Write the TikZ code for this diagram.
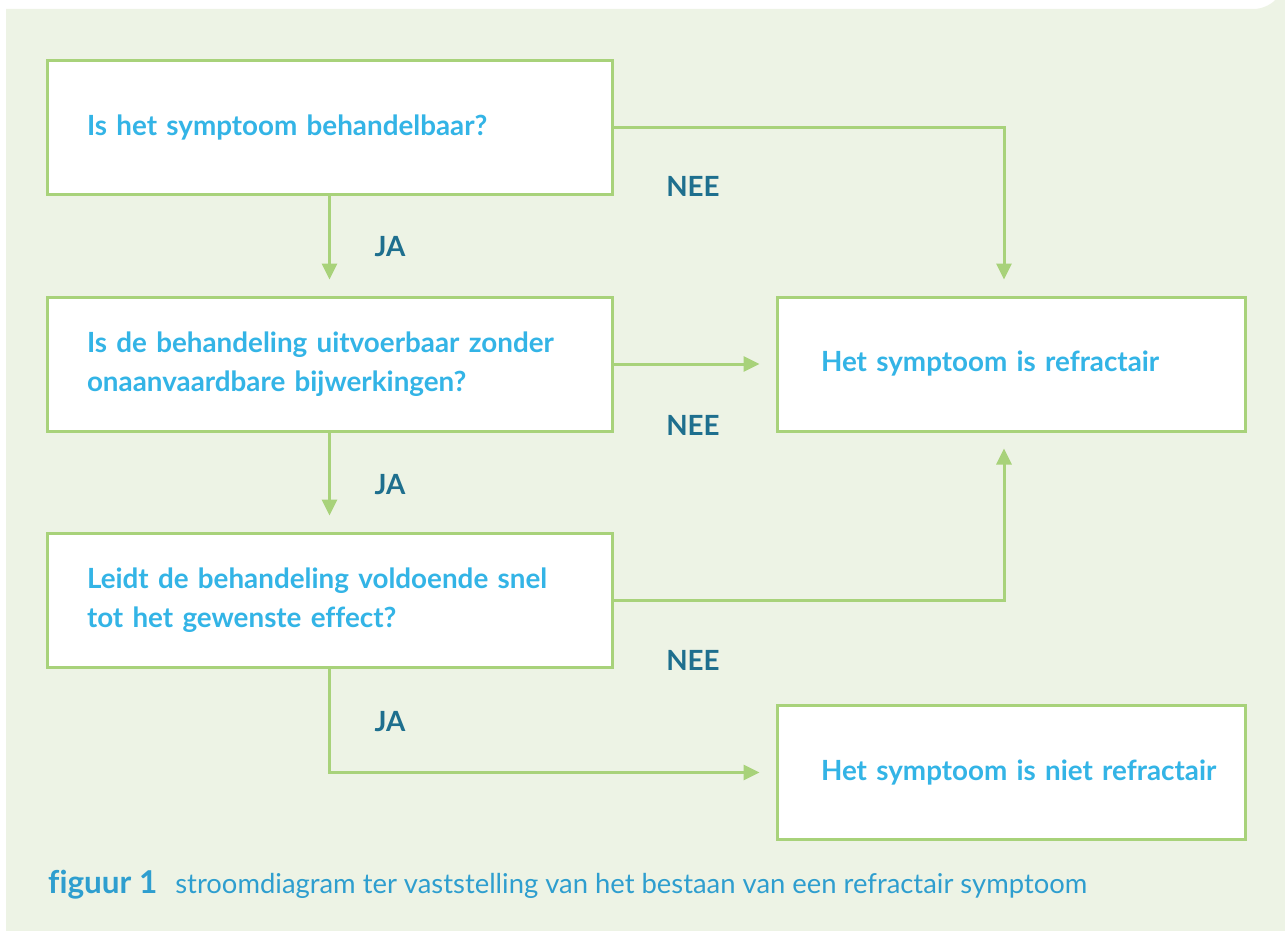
\documentclass[tikz,border=0pt]{standalone}
\usepackage{fontspec}
\setmainfont{Lato}[Ligatures=NoCommon]
\usetikzlibrary{arrows.meta,calc}
\definecolor{bg}{HTML}{EDF3E5}
\definecolor{grn}{HTML}{A8D27A}
\definecolor{boxtxt}{HTML}{33B4E6}
\definecolor{lbl}{HTML}{1E6F8E}
\definecolor{cap}{HTML}{2E9ECF}
\begin{document}
\begin{tikzpicture}[x=1pt,y=-1pt,
  box/.style={draw=grn,line width=3pt,fill=white,minimum height=134pt,
    font=\fontsize{27.8}{39}\selectfont\bfseries,text=boxtxt,align=left},
  lbox/.style={box,minimum width=565pt,text width=485pt,inner xsep=40pt},
  rbox/.style={box,minimum width=468pt,text width=380pt,inner xsep=44pt},
  arr/.style={draw=grn,line width=3pt,-{Triangle[length=16pt,width=15pt]},shorten >=16pt},
  lab/.style={font=\fontsize{27.8}{30}\selectfont\bfseries,text=lbl}
]
\useasboundingbox (0,0) rectangle (1285,931);
\fill[bg] (6,931) -- (6,9) -- (1253,9) arc[start angle=90,end angle=0,radius=32] -- (1285,931) -- cycle;

\node[lbox] (b1) at (329.5,127.5) {Is het symptoom behandelbaar?};
\node[lbox] (b2) at (329.5,364) {Is de behandeling uitvoerbaar zonder\\onaanvaardbare bijwerkingen?};
\node[lbox] (b3) at (329.5,600) {Leidt de behandeling voldoende snel\\tot het gewenste effect?};
\node[rbox] (r1) at (1011,364) {\mbox{Het symptoom is refractair}};
\node[rbox] (r2) at (1011,772.5) {\mbox{Het symptoom is niet refractair}};
\coordinate (rx) at (1004,0);

\draw[arr] (b1) -- (b2);
\draw[arr] (b2) -- (b3);
\draw[arr] (b1.east) -| (rx |- r1.north);
\draw[arr] (b2.east) -- (r1.west);
\draw[arr] (b3.east) -| (rx |- r1.south);
\draw[arr] (b3.south) |- (r2.west);

\node[lab] (ja1) at (390,247) {JA};
\node[lab] (ja2) at (390,485) {JA};
\node[lab] (ja3) at (390,722) {JA};
\node[lab] (nee1) at (693,186) {NEE};
\node[lab] (nee2) at (693,425) {NEE};
\node[lab] (nee3) at (693,660) {NEE};

\node[anchor=base west,text=cap,font=\fontsize{27.4}{30}\selectfont,inner sep=0pt] (capt) at (48,893)
  {{\fontsize{31.5}{30}\selectfont\bfseries figuur 1}\hspace{18pt}stroomdiagram ter vaststelling van het bestaan van een refractair symptoom};
\end{tikzpicture}
\end{document}
